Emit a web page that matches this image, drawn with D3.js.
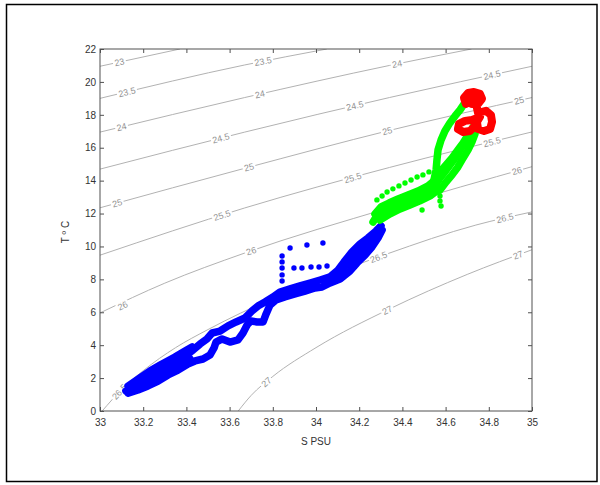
<!DOCTYPE html>
<html>
<head>
<meta charset="utf-8">
<script src="https://cdn.jsdelivr.net/npm/d3@7"></script>
<style>
  body { margin: 0; background: #fff; }
  text { font-family: "Liberation Sans", Arial, sans-serif; }
</style>
</head>
<body>
<div id="chart"></div>
<script>
// tick labels
var xTicks = [33, 33.2, 33.4, 33.6, 33.8, 34, 34.2, 34.4, 34.6, 34.8, 35];
var yTicks = [0, 2, 4, 6, 8, 10, 12, 14, 16, 18, 20, 22];

// sigma-t levels and the isopycnals, [S, T]
var levels = [23, 23.5, 24, 24.5, 25, 25.5, 26, 26.5, 27];
var contourLines = [
  [[33, 20.95], [33.37, 22]],
  [[33, 19.0], [33.67, 21.03], [34.05, 22]],
  [[33, 16.95], [33.67, 19.05], [34.34, 21.0], [34.72, 22]],
  [[33, 14.7], [33.67, 16.95], [34.34, 19.05], [35, 20.95]],
  [[33, 12.35], [33.67, 14.75], [34.34, 17.05], [35, 19.05]],
  [[33, 9.47], [33.67, 12.34], [34.34, 14.8], [35, 16.96]],
  [[33, 5.96], [33.3, 7.77], [33.67, 9.6], [34.34, 12.35], [35, 14.85]],
  [[33.01, 0], [33.1, 1.3], [33.2, 2.45], [33.35, 3.85], [33.5, 4.95], [33.8, 6.85], [34.33, 9.55], [34.74, 11.3], [35, 12.1]],
  [[33.64, 0], [33.7, 0.95], [33.8, 2.1], [34.0, 3.85], [34.34, 6.2], [34.7, 8.3], [35, 9.8]]
];
// contour labels [level, S, T]
var contourLabels = [
  [23, 33.09, 21.2],
  [23.5, 33.125, 19.38], [23.5, 33.755, 21.25],
  [24, 33.10, 17.26], [24, 33.74, 19.25], [24, 34.375, 21.09],
  [24.5, 33.56, 16.58], [24.5, 34.18, 18.55], [24.5, 34.815, 20.42],
  [25, 33.08, 12.64], [25, 33.69, 14.82], [25, 34.33, 17.02], [25, 34.94, 18.87],
  [25.5, 33.565, 11.89], [25.5, 34.17, 14.17], [25.5, 34.815, 16.35],
  [26, 33.105, 6.4], [26, 33.70, 9.72], [26, 34.93, 14.59],
  [26.5, 33.09, 1.17], [26.5, 34.29, 9.35], [26.5, 34.875, 11.72],
  [27, 33.77, 1.75], [27, 34.33, 6.13], [27, 34.935, 9.48]
];

// blue profiles (dense casts) [S, T]
var blueA = [[33.120,1.22],[33.162,1.52],[33.208,1.88],[33.255,2.25],[33.301,2.61],[33.347,2.98],[33.394,3.34],[33.431,3.71],[33.463,4.07],[33.495,4.38],[33.519,4.74],[33.556,4.86],[33.593,5.17],[33.630,5.41],[33.671,5.65],[33.704,6.08],[33.731,6.38],[33.764,6.63],[33.801,6.93],[33.833,7.23],[33.880,7.42],[33.926,7.60],[33.972,7.78],[34.019,7.96],[34.065,8.15],[34.102,8.57],[34.130,9.06],[34.167,9.67],[34.204,10.15],[34.241,10.52],[34.278,10.94],[34.301,11.25]];
var blueB = [[33.130,1.09],[33.176,1.28],[33.222,1.52],[33.269,1.82],[33.315,2.19],[33.361,2.49],[33.407,2.86],[33.440,3.04],[33.477,3.16],[33.509,3.40],[33.528,3.83],[33.537,4.19],[33.565,4.38],[33.602,4.19],[33.639,4.32],[33.662,4.74],[33.681,5.23],[33.699,5.47],[33.727,5.41],[33.755,5.41],[33.769,5.90],[33.787,6.44],[33.815,6.75],[33.856,6.93],[33.903,7.11],[33.949,7.29],[33.995,7.48],[34.028,7.54],[34.065,7.78],[34.111,8.02],[34.157,8.51],[34.190,9.00],[34.227,9.48],[34.259,9.97],[34.287,10.52],[34.306,11.00]];
var blueC = [[33.130,1.52],[33.185,2.01],[33.231,2.43],[33.287,2.86],[33.347,3.28],[33.394,3.65],[33.426,3.89]];
var blueM = [[33.148,1.34],[33.194,1.58],[33.241,1.88],[33.287,2.19],[33.333,2.55],[33.380,2.92],[33.417,3.16]];
var blueE = [[34.088,8.21],[34.125,8.69],[34.157,9.06],[34.190,9.48],[34.222,9.91],[34.255,10.33],[34.287,10.76]];
var blueDots = [[33.880,9.91],[33.958,10.09],[34.032,10.21],[33.843,9.42],[33.843,9.06],[33.843,8.69],[33.843,8.27],[33.843,7.90],[33.898,8.69],[33.935,8.69],[33.977,8.75],[34.014,8.75],[34.051,8.81]];

// green profiles
var greenA = [[34.264,11.49],[34.287,11.98],[34.319,12.28],[34.356,12.40],[34.398,12.64],[34.444,12.89],[34.491,13.13],[34.528,13.43],[34.556,13.80],[34.574,14.16],[34.597,14.53],[34.620,14.95],[34.644,15.38],[34.667,15.87],[34.690,16.35],[34.713,16.90],[34.727,17.26]];
var greenB = [[34.273,11.98],[34.301,12.40],[34.338,12.64],[34.380,12.89],[34.426,13.13],[34.472,13.37],[34.519,13.68],[34.551,14.04],[34.574,14.53],[34.602,14.95],[34.630,15.38],[34.657,15.87],[34.681,16.29],[34.704,16.78]];
var greenC = [[34.574,13.43],[34.602,13.92],[34.630,14.35],[34.657,14.83],[34.681,15.38],[34.704,15.87],[34.722,16.35],[34.736,16.84]];
var greenD = [[34.546,14.04],[34.556,14.65],[34.560,15.26],[34.565,15.87],[34.579,16.47],[34.597,17.02],[34.620,17.51],[34.644,17.93],[34.667,18.30],[34.685,18.66],[34.699,18.91]];
var greenE = [[34.296,11.61],[34.343,11.98],[34.389,12.28],[34.435,12.52],[34.481,12.77],[34.528,13.07],[34.565,13.43]];
var greenDots = [[34.282,12.83],[34.306,13.07],[34.329,13.31],[34.356,13.50],[34.384,13.68],[34.412,13.86],[34.440,14.04],[34.468,14.22],[34.495,14.35],[34.523,14.53],[34.574,13.07],[34.574,12.77],[34.579,12.46],[34.491,12.22]];

// red profile
var redA = [[34.694,18.66],[34.685,19.03],[34.704,19.33],[34.731,19.39],[34.759,19.27],[34.769,18.97],[34.750,18.66],[34.722,18.66],[34.718,18.97],[34.736,19.09],[34.745,18.42],[34.750,18.12],[34.787,18.24],[34.810,17.99],[34.815,17.57],[34.806,17.14],[34.778,17.02],[34.750,17.14],[34.745,17.57],[34.759,17.87],[34.722,17.69],[34.690,17.63],[34.662,17.45],[34.657,17.14],[34.681,16.96],[34.713,17.02],[34.731,17.26]];

var blueCasts = [blueA, blueB, blueC, blueM, blueE];
var greenCasts = [greenA, greenB, greenC, greenD, greenE];
var redCasts = [redA];

// dimensions of the axes box
var margin = {top: 49, left: 100},
    width = 432,
    height = 362;

var svg = d3.select("#chart")
  .append("svg")
    .attr("width", 600)
    .attr("height", 485);

svg.append("rect")
  .attr("width", 600)
  .attr("height", 485)
  .attr("fill", "#fff");

// outer frame
svg.append("rect")
  .attr("x", 6.5)
  .attr("y", 4.5)
  .attr("width", 590.5)
  .attr("height", 477)
  .attr("fill", "none")
  .attr("stroke", "#000")
  .attr("stroke-width", 1.5);

var g = svg.append("g")
  .attr("transform", "translate(" + margin.left + "," + margin.top + ")");

var x = d3.scaleLinear().domain([33, 35]).range([0, width]);
var y = d3.scaleLinear().domain([0, 22]).range([height, 0]);

g.append("defs").append("clipPath")
  .attr("id", "plotclip")
  .append("rect")
    .attr("width", width)
    .attr("height", height);

var plot = g.append("g").attr("clip-path", "url(#plotclip)");

var line = d3.line()
  .x(function(d) { return x(d[0]); })
  .y(function(d) { return y(d[1]); });

// isopycnals
plot.selectAll(".iso")
  .data(contourLines)
  .enter()
  .append("path")
    .attr("class", "iso")
    .attr("d", line.curve(d3.curveMonotoneX))
    .attr("fill", "none")
    .attr("stroke", "#b2b2b2")
    .attr("stroke-width", 1);

// inline contour labels
contourLabels.forEach(function(d) {
  var pts = contourLines[levels.indexOf(d[0])];
  var i = 1;
  while (i < pts.length - 1 && pts[i][0] < d[1]) i++;
  var ang = Math.atan2(y(pts[i][1]) - y(pts[i - 1][1]), x(pts[i][0]) - x(pts[i - 1][0])) * 180 / Math.PI;
  var lg = plot.append("g")
    .attr("transform", "translate(" + x(d[1]) + "," + y(d[2]) + ") rotate(" + ang + ")");
  var t = lg.append("text")
    .attr("text-anchor", "middle")
    .attr("dy", "0.35em")
    .style("font-size", "9px")
    .attr("fill", "#939393")
    .text(String(d[0]));
  var w = t.node().getComputedTextLength();
  lg.insert("rect", "text")
    .attr("x", -w / 2 - 1.5)
    .attr("y", -4)
    .attr("width", w + 3)
    .attr("height", 8)
    .attr("fill", "#fff");
});

// profiles
var castLine = d3.line()
  .x(function(d) { return x(d[0]); })
  .y(function(d) { return y(d[1]); });

function drawCasts(casts, dots, colour, sw) {
  plot.append("g").selectAll("path")
    .data(casts)
    .enter()
    .append("path")
      .attr("d", castLine)
      .attr("fill", "none")
      .attr("stroke", colour)
      .attr("stroke-width", sw)
      .attr("stroke-linecap", "round")
      .attr("stroke-linejoin", "round");
  plot.append("g").selectAll("circle")
    .data(dots)
    .enter()
    .append("circle")
      .attr("cx", function(d) { return x(d[0]); })
      .attr("cy", function(d) { return y(d[1]); })
      .attr("r", 2.7)
      .attr("fill", colour);
}
drawCasts(blueCasts, blueDots, "#0000ff", 7.5);
drawCasts(greenCasts, greenDots, "#00ff00", 7.5);
drawCasts(redCasts, [], "#ff0000", 8);

// axes, ticks pointing inwards
var axisColour = "#505050";
function styleAxis(sel) {
  sel.select(".domain").remove();
  sel.selectAll(".tick line").attr("stroke", axisColour);
  sel.selectAll(".tick text")
    .attr("fill", "#333")
    .style("font-size", "10px");
}

g.append("g")
  .attr("transform", "translate(0," + height + ")")
  .call(d3.axisBottom(x).tickValues(xTicks).tickSize(-4).tickPadding(8).tickFormat(d3.format("")))
  .call(styleAxis);
g.append("g")
  .call(d3.axisTop(x).tickValues(xTicks).tickSize(-4).tickFormat(""))
  .call(styleAxis);
g.append("g")
  .call(d3.axisLeft(y).tickValues(yTicks).tickSize(-4).tickPadding(4).tickFormat(d3.format("")))
  .call(styleAxis);
g.append("g")
  .attr("transform", "translate(" + width + ",0)")
  .call(d3.axisRight(y).tickValues(yTicks).tickSize(-4).tickFormat(""))
  .call(styleAxis);

g.append("rect")
  .attr("width", width)
  .attr("height", height)
  .attr("fill", "none")
  .attr("stroke", axisColour)
  .attr("stroke-width", 1);

// axis labels
g.append("text")
  .attr("text-anchor", "middle")
  .attr("x", width / 2)
  .attr("y", height + 34)
  .style("font-size", "10px")
  .attr("fill", "#333")
  .text("S PSU");

g.append("text")
  .attr("text-anchor", "middle")
  .attr("transform", "translate(-31," + (height / 2 + 2) + ") rotate(-90)")
  .style("font-size", "10px")
  .attr("fill", "#333")
  .text("T º C");
</script>
</body>
</html>
